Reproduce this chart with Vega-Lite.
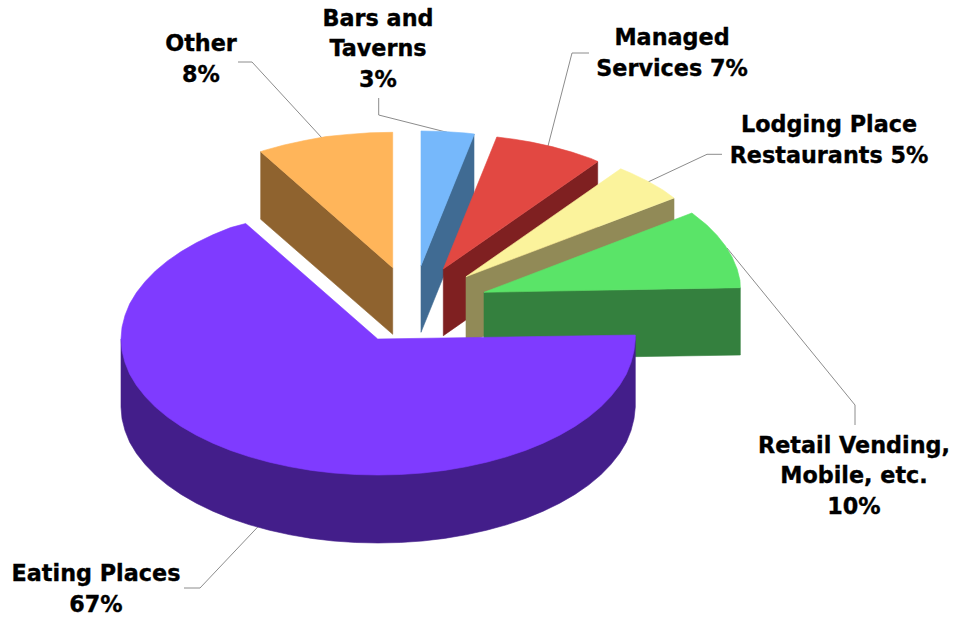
{
"$schema":"https://vega.github.io/schema/vega-lite/v6.json",
"width":953,"height":617,"padding":0,"autosize":{"type":"none"},"background":"white",
"view":{"stroke":null},
"datasets":{
"leaders":[
{"slice":"Other","i":0,"x":238,"y":62},{"slice":"Other","i":1,"x":252,"y":62},{"slice":"Other","i":2,"x":322,"y":138},
{"slice":"Bars and Taverns","i":0,"x":378.7,"y":98},{"slice":"Bars and Taverns","i":1,"x":378.7,"y":115},{"slice":"Bars and Taverns","i":2,"x":447,"y":132.3},
{"slice":"Managed Services","i":0,"x":589,"y":53},{"slice":"Managed Services","i":1,"x":572,"y":53},{"slice":"Managed Services","i":2,"x":548,"y":146},
{"slice":"Lodging Place Restaurants","i":0,"x":722,"y":154.3},{"slice":"Lodging Place Restaurants","i":1,"x":707,"y":154.3},{"slice":"Lodging Place Restaurants","i":2,"x":648,"y":182},
{"slice":"Retail Vending","i":0,"x":727,"y":248},{"slice":"Retail Vending","i":1,"x":855,"y":405},{"slice":"Retail Vending","i":2,"x":855,"y":425},
{"slice":"Eating Places","i":0,"x":184,"y":588},{"slice":"Eating Places","i":1,"x":200,"y":588},{"slice":"Eating Places","i":2,"x":258,"y":526.7}
],
"faces":[
{"face":"Other side","i":0,"x":260.7,"y":151.7},{"face":"Other side","i":1,"x":392.7,"y":267.7},{"face":"Other side","i":2,"x":392.7,"y":334.3},{"face":"Other side","i":3,"x":260.7,"y":219.3},
{"face":"Other top","i":0,"x":392.7,"y":267.7},{"face":"Other top","i":1,"x":260.7,"y":151.7},{"face":"Other top","i":2,"x":264.2,"y":150.4},{"face":"Other top","i":3,"x":284,"y":145},{"face":"Other top","i":4,"x":304.8,"y":140.5},{"face":"Other top","i":5,"x":326,"y":136.6},{"face":"Other top","i":6,"x":348.1,"y":134.4},{"face":"Other top","i":7,"x":370,"y":132.8},{"face":"Other top","i":8,"x":392.7,"y":132.3},
{"face":"Bars side","i":0,"x":421,"y":265.7},{"face":"Bars side","i":1,"x":474,"y":134},{"face":"Bars side","i":2,"x":474,"y":201},{"face":"Bars side","i":3,"x":421,"y":332.3},
{"face":"Bars top","i":0,"x":421,"y":265.7},{"face":"Bars top","i":1,"x":421,"y":131},{"face":"Bars top","i":2,"x":443.4,"y":131.5},{"face":"Bars top","i":3,"x":465.6,"y":133},{"face":"Bars top","i":4,"x":474.4,"y":134},
{"face":"Managed side","i":0,"x":443.3,"y":269},{"face":"Managed side","i":1,"x":597.7,"y":161.7},{"face":"Managed side","i":2,"x":597.7,"y":228},{"face":"Managed side","i":3,"x":443.3,"y":335.7},
{"face":"Managed top","i":0,"x":443.3,"y":269},{"face":"Managed top","i":1,"x":496.8,"y":137},{"face":"Managed top","i":2,"x":514,"y":139.2},{"face":"Managed top","i":3,"x":531.2,"y":142.1},{"face":"Managed top","i":4,"x":551.9,"y":146.6},{"face":"Managed top","i":5,"x":571.8,"y":152.1},{"face":"Managed top","i":6,"x":590.7,"y":158.4},{"face":"Managed top","i":7,"x":597.9,"y":161.5},
{"face":"Lodging side","i":0,"x":466,"y":276.7},{"face":"Lodging side","i":1,"x":674,"y":198.3},{"face":"Lodging side","i":2,"x":674,"y":265},{"face":"Lodging side","i":3,"x":466,"y":343},
{"face":"Lodging top","i":0,"x":466,"y":276.7},{"face":"Lodging top","i":1,"x":620.7,"y":168.8},{"face":"Lodging top","i":2,"x":631.2,"y":173.2},{"face":"Lodging top","i":3,"x":647.7,"y":181.2},{"face":"Lodging top","i":4,"x":662.9,"y":189.9},{"face":"Lodging top","i":5,"x":674,"y":198},
{"face":"Retail side","i":0,"x":484,"y":292.3},{"face":"Retail side","i":1,"x":740.3,"y":287.7},{"face":"Retail side","i":2,"x":740.3,"y":355},{"face":"Retail side","i":3,"x":484,"y":359},
{"face":"Retail top","i":0,"x":484,"y":292.3},{"face":"Retail top","i":1,"x":691.9,"y":213},{"face":"Retail top","i":2,"x":706.6,"y":224.8},{"face":"Retail top","i":3,"x":716.9,"y":235.2},{"face":"Retail top","i":4,"x":725.5,"y":246.1},{"face":"Retail top","i":5,"x":732.2,"y":257.3},{"face":"Retail top","i":6,"x":737.1,"y":268.9},{"face":"Retail top","i":7,"x":740,"y":280.5},{"face":"Retail top","i":8,"x":740.3,"y":287.7},
{"face":"Eating side","i":0,"x":635.3,"y":337},{"face":"Eating side","i":1,"x":635.3,"y":407},{"face":"Eating side","i":2,"x":634,"y":418.8},{"face":"Eating side","i":3,"x":631,"y":430.6},{"face":"Eating side","i":4,"x":626.3,"y":442.2},{"face":"Eating side","i":5,"x":619.5,"y":453.5},{"face":"Eating side","i":6,"x":610.8,"y":464.5},{"face":"Eating side","i":7,"x":600.6,"y":475},{"face":"Eating side","i":8,"x":588.5,"y":485.1},{"face":"Eating side","i":9,"x":574.9,"y":494.4},{"face":"Eating side","i":10,"x":559.7,"y":503.2},{"face":"Eating side","i":11,"x":543.2,"y":511.2},{"face":"Eating side","i":12,"x":525.5,"y":518.4},{"face":"Eating side","i":13,"x":506.5,"y":524.8},{"face":"Eating side","i":14,"x":486.7,"y":530.2},{"face":"Eating side","i":15,"x":465.9,"y":534.8},{"face":"Eating side","i":16,"x":444.6,"y":538.4},{"face":"Eating side","i":17,"x":422.7,"y":541},{"face":"Eating side","i":18,"x":400.4,"y":542.5},{"face":"Eating side","i":19,"x":378,"y":543},{"face":"Eating side","i":20,"x":355.6,"y":542.5},{"face":"Eating side","i":21,"x":333.3,"y":541},{"face":"Eating side","i":22,"x":311.4,"y":538.4},{"face":"Eating side","i":23,"x":290.1,"y":534.8},{"face":"Eating side","i":24,"x":269.3,"y":530.2},{"face":"Eating side","i":25,"x":249.5,"y":524.8},{"face":"Eating side","i":26,"x":230.5,"y":518.4},{"face":"Eating side","i":27,"x":212.8,"y":511.2},{"face":"Eating side","i":28,"x":196.3,"y":503.2},{"face":"Eating side","i":29,"x":181.1,"y":494.4},{"face":"Eating side","i":30,"x":167.5,"y":485.1},{"face":"Eating side","i":31,"x":155.4,"y":475},{"face":"Eating side","i":32,"x":145.2,"y":464.5},{"face":"Eating side","i":33,"x":136.5,"y":453.5},{"face":"Eating side","i":34,"x":129.7,"y":442.2},{"face":"Eating side","i":35,"x":125,"y":430.6},{"face":"Eating side","i":36,"x":122,"y":418.8},{"face":"Eating side","i":37,"x":121,"y":407},{"face":"Eating side","i":38,"x":121,"y":339},{"face":"Eating side","i":39,"x":378,"y":352},
{"face":"Eating top","i":0,"x":377.7,"y":339},{"face":"Eating top","i":1,"x":635.3,"y":335},{"face":"Eating top","i":2,"x":635.3,"y":339},{"face":"Eating top","i":3,"x":634,"y":350.8},{"face":"Eating top","i":4,"x":631,"y":362.6},{"face":"Eating top","i":5,"x":626.3,"y":374.2},{"face":"Eating top","i":6,"x":619.5,"y":385.5},{"face":"Eating top","i":7,"x":610.8,"y":396.5},{"face":"Eating top","i":8,"x":600.6,"y":407},{"face":"Eating top","i":9,"x":588.5,"y":417.1},{"face":"Eating top","i":10,"x":574.9,"y":426.4},{"face":"Eating top","i":11,"x":559.7,"y":435.2},{"face":"Eating top","i":12,"x":543.2,"y":443.2},{"face":"Eating top","i":13,"x":525.5,"y":450.4},{"face":"Eating top","i":14,"x":506.5,"y":456.8},{"face":"Eating top","i":15,"x":486.7,"y":462.2},{"face":"Eating top","i":16,"x":465.9,"y":466.8},{"face":"Eating top","i":17,"x":444.6,"y":470.4},{"face":"Eating top","i":18,"x":422.7,"y":473},{"face":"Eating top","i":19,"x":400.4,"y":474.5},{"face":"Eating top","i":20,"x":378,"y":475},{"face":"Eating top","i":21,"x":355.6,"y":474.5},{"face":"Eating top","i":22,"x":333.3,"y":473},{"face":"Eating top","i":23,"x":311.4,"y":470.4},{"face":"Eating top","i":24,"x":290.1,"y":466.8},{"face":"Eating top","i":25,"x":269.3,"y":462.2},{"face":"Eating top","i":26,"x":249.5,"y":456.8},{"face":"Eating top","i":27,"x":230.5,"y":450.4},{"face":"Eating top","i":28,"x":212.8,"y":443.2},{"face":"Eating top","i":29,"x":196.3,"y":435.2},{"face":"Eating top","i":30,"x":181.1,"y":426.4},{"face":"Eating top","i":31,"x":167.5,"y":417.1},{"face":"Eating top","i":32,"x":155.4,"y":407},{"face":"Eating top","i":33,"x":145.2,"y":396.5},{"face":"Eating top","i":34,"x":136.5,"y":385.5},{"face":"Eating top","i":35,"x":129.7,"y":374.2},{"face":"Eating top","i":36,"x":125,"y":362.6},{"face":"Eating top","i":37,"x":122,"y":350.8},{"face":"Eating top","i":38,"x":121,"y":339},{"face":"Eating top","i":39,"x":122,"y":327.2},{"face":"Eating top","i":40,"x":125,"y":315.4},{"face":"Eating top","i":41,"x":129.7,"y":303.8},{"face":"Eating top","i":42,"x":136.5,"y":292.5},{"face":"Eating top","i":43,"x":145.2,"y":281.5},{"face":"Eating top","i":44,"x":155.4,"y":271},{"face":"Eating top","i":45,"x":167.5,"y":260.9},{"face":"Eating top","i":46,"x":181.1,"y":251.6},{"face":"Eating top","i":47,"x":196.3,"y":242.8},{"face":"Eating top","i":48,"x":212.8,"y":234.8},{"face":"Eating top","i":49,"x":230.5,"y":227.6},{"face":"Eating top","i":50,"x":245.7,"y":223.5}
],
"labels":[
{"label":"Other\n8%","x":201,"y":44},
{"label":"Bars and\nTaverns\n3%","x":378,"y":18.5},
{"label":"Managed\nServices 7%","x":672,"y":38},
{"label":"Lodging Place\nRestaurants 5%","x":829,"y":125},
{"label":"Retail Vending,\n Mobile, etc.\n10%","x":854,"y":445.5},
{"label":"Eating Places\n67%","x":96,"y":574}
]
},
"layer":[
{"data":{"name":"leaders"},
 "mark":{"type":"line","stroke":"#8c8c8c","strokeWidth":1},
 "encoding":{
  "x":{"field":"x","type":"quantitative","scale":{"domain":[0,953],"nice":false,"zero":false},"axis":null},
  "y":{"field":"y","type":"quantitative","scale":{"domain":[617,0],"nice":false,"zero":false},"axis":null},
  "detail":{"field":"slice"},
  "order":{"field":"i"}
 }},
{"data":{"name":"faces"},
 "mark":{"type":"line","interpolate":"linear-closed","strokeWidth":0.6},
 "encoding":{
  "x":{"field":"x","type":"quantitative","axis":null},
  "y":{"field":"y","type":"quantitative","axis":null},
  "fill":{"field":"face","type":"nominal","legend":null,"scale":{
    "domain":["Other side","Other top","Bars side","Bars top","Managed side","Managed top","Lodging side","Lodging top","Retail side","Retail top","Eating side","Eating top"],
    "range":["#8F632F","#FFB55A","#406B93","#76B8FB","#7F2021","#E24842","#918A57","#FBF39C","#34803E","#5AE468","#431E8A","#7F3BFF"]}},
  "stroke":{"field":"face","type":"nominal","legend":null,"scale":{
    "domain":["Other side","Other top","Bars side","Bars top","Managed side","Managed top","Lodging side","Lodging top","Retail side","Retail top","Eating side","Eating top"],
    "range":["#8F632F","#FFB55A","#406B93","#76B8FB","#7F2021","#E24842","#918A57","#FBF39C","#34803E","#5AE468","#431E8A","#7F3BFF"]}},
  "order":{"field":"i"}
 }},
{"data":{"name":"labels"},
 "mark":{"type":"text","font":"DejaVu Sans","fontWeight":"bold","fontSize":22.3,"lineBreak":"\n","lineHeight":30.5,"align":"center","baseline":"middle","fill":"#000000","stroke":"#000000","strokeWidth":0.35},
 "encoding":{
  "x":{"field":"x","type":"quantitative","axis":null},
  "y":{"field":"y","type":"quantitative","axis":null},
  "text":{"field":"label"}
 }}
],
"config":{"style":{"cell":{"stroke":null}}}
}
